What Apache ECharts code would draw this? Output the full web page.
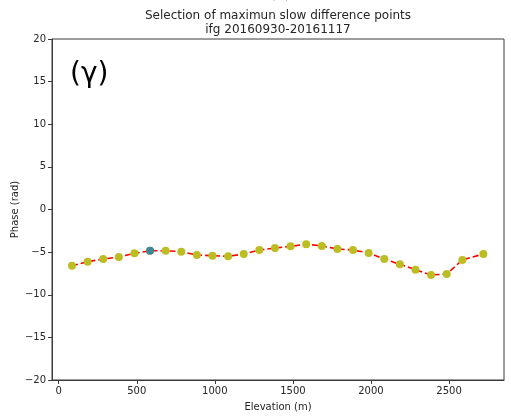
<!DOCTYPE html>
<html>
<head>
<meta charset="utf-8">
<script src="https://cdn.jsdelivr.net/npm/echarts@6/dist/echarts.min.js"></script>
<style>
  html, body { margin: 0; padding: 0; background: #fff; }
  #chart { width: 511px; height: 418px; }
</style>
</head>
<body>
<div id="chart"></div>
<script>
// Elevation bins (m) and the phase of each bin (rad)
const elevation = [85, 185, 285, 385, 485, 585, 685, 785, 885, 985, 1085, 1185, 1285,
  1385, 1485, 1585, 1685, 1785, 1885, 1985, 2085, 2185, 2285, 2385, 2485, 2585, 2720];
const phase = [-6.59, -6.12, -5.81, -5.57, -5.14, -4.83, -4.83, -4.95, -5.34, -5.42,
  -5.49, -5.22, -4.75, -4.52, -4.32, -4.08, -4.28, -4.63, -4.75, -5.10, -5.81, -6.43,
  -7.06, -7.68, -7.57, -5.92, -5.22];
// Index of the selected point (maximum slope difference)
const selectedIndex = 5;

const xTicks = [0, 500, 1000, 1500, 2000, 2500];

const fmtMinus = v => String(v).replace('-', '\u2212');
const font = 'DejaVu Sans';
const txt = '#262626';
const axisCol = '#3a3a3a';

const linePts = elevation.map((e, i) => [e, phase[i]]);
const selPts = [[elevation[selectedIndex], phase[selectedIndex]]];

const chart = echarts.init(document.getElementById('chart'), null, { renderer: 'canvas' });
chart.setOption({
  animation: false,
  backgroundColor: '#ffffff',
  title: {
    text: 'Selection of maximun slow difference points\nifg 20160930-20161117',
    left: 273, top: 4, textAlign: 'center',
    textStyle: { fontFamily: font, fontSize: 12, fontWeight: 'normal', color: txt, lineHeight: 14 }
  },
  graphic: [
    { type: 'text', left: 'center', top: -9,
      style: { text: 'Elevation (m)', fontFamily: font, fontSize: 10, fill: '#444' } },
    { type: 'text', left: 70, top: 61,
      style: { text: '(\u03b3)', fontFamily: font, fontSize: 28, fill: '#000' } }
  ],
  grid: {
    left: 52, right: 7, top: 39, bottom: 38,
    outerBoundsMode: 'none', containLabel: false,
    show: true, borderColor: axisCol, borderWidth: 1, backgroundColor: 'transparent'
  },
  xAxis: {
    type: 'value', min: -43, max: 2852,
    name: 'Elevation (m)', nameLocation: 'middle', nameGap: 22, nameMoveOverlap: false,
    nameTextStyle: { fontFamily: font, fontSize: 10, color: txt },
    splitLine: { show: false },
    axisLine: { show: true, onZero: false, lineStyle: { color: axisCol, width: 1 } },
    axisTick: { show: true, length: 4, customValues: xTicks, lineStyle: { color: axisCol } },
    axisLabel: { customValues: xTicks, fontFamily: font, fontSize: 10, color: txt, margin: 6,
      formatter: fmtMinus }
  },
  yAxis: {
    type: 'value', min: -20, max: 20, interval: 5,
    name: 'Phase (rad)', nameLocation: 'middle', nameGap: 32, nameRotate: 90,
    nameMoveOverlap: false,
    nameTextStyle: { fontFamily: font, fontSize: 10, color: txt },
    splitLine: { show: false },
    axisLine: { show: true, onZero: false, lineStyle: { color: axisCol, width: 1 } },
    axisTick: { show: true, length: 4, lineStyle: { color: axisCol } },
    axisLabel: { fontFamily: font, fontSize: 10, color: txt, margin: 6, formatter: fmtMinus }
  },
  series: [
    {
      type: 'line', data: linePts, symbol: 'circle', symbolSize: 8,
      itemStyle: { color: '#bcbd22' },
      lineStyle: { color: '#ff0000', width: 1.6, type: [6, 3] },
      z: 2
    },
    {
      type: 'scatter', data: selPts, symbol: 'circle', symbolSize: 8,
      itemStyle: { color: '#1f77b4' }, z: 3
    }
  ]
});
</script>
</body>
</html>
